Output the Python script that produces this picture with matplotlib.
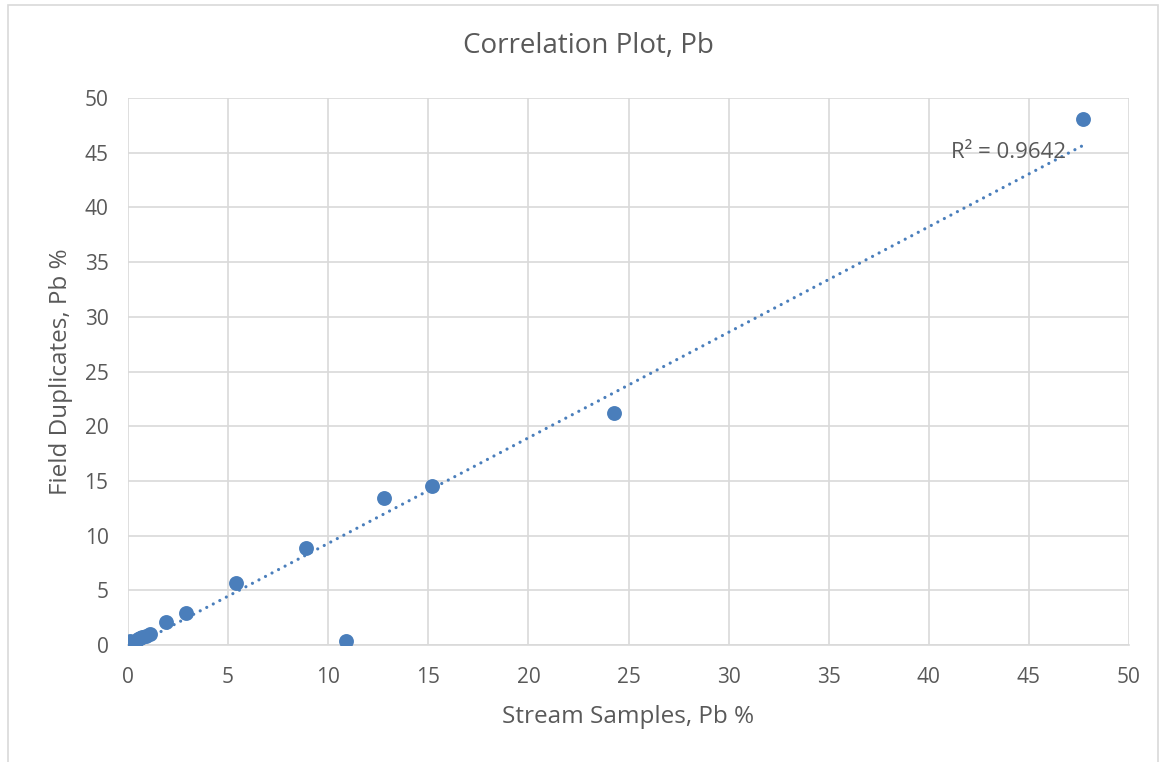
import numpy as np
import matplotlib
matplotlib.use("Agg")
import matplotlib.pyplot as plt
from matplotlib.patches import Rectangle

stream = [0.02, 0.05, 0.08, 0.1, 0.15, 0.2, 0.3, 0.4, 0.5, 0.6, 0.7, 0.9, 1.1,
          1.9, 2.9, 5.4, 8.9, 10.9, 12.8, 15.2, 24.3, 47.7]
dups = [0.02, 0.1, 0.2, 0.35, 0.05, 0.15, 0.3, 0.4, 0.55, 0.6, 0.7, 0.85, 1.0,
        2.1, 2.9, 5.7, 8.9, 0.4, 13.4, 14.5, 21.2, 48.1]
x_ticks = list(range(0, 55, 5))
y_ticks = list(range(0, 55, 5))
r2_label = "R² = 0.9642"

plt.rcParams['font.family'] = ['Open Sans', 'DejaVu Sans']
gray = '#595959'
blue = '#4a7ebb'

fig = plt.figure(figsize=(11.65, 7.62), dpi=100)
fig.patches.append(Rectangle((8/1165, -0.01), (1158-8)/1165, (762-5)/762 + 0.01,
                             transform=fig.transFigure, fill=False,
                             edgecolor='#d9d9d9', linewidth=1.2))
ax = fig.add_axes([128/1165, 1-645/762, (1129-128)/1165, (645-98)/762])

ax.set_xlim(0, 50)
ax.set_ylim(0, 50)
ax.set_xticks(x_ticks)
ax.set_yticks(y_ticks)
ax.grid(True, color='#d9d9d9', linewidth=1.2)
ax.set_axisbelow(True)
for s in ['top', 'right', 'left']:
    ax.spines[s].set_visible(False)
ax.spines['bottom'].set_color('#d9d9d9')
ax.spines['bottom'].set_linewidth(1.2)
ax.tick_params(length=0, labelsize=15, labelcolor=gray)
ax.tick_params(axis='x', pad=16)
ax.tick_params(axis='y', pad=14)

ax.scatter(stream, dups, s=115, color=blue, zorder=3, linewidths=0)

xs = np.array(stream)
ys = np.array(dups)
m, b = np.polyfit(xs, ys, 1)
xl = np.array([xs.min(), xs.max()])
ax.plot(xl, m*xl + b, linestyle=(0, (0.01, 2.3)), color=blue, linewidth=2.3,
        zorder=2, dash_capstyle='round')

ax.text(44.0, 45.0, r2_label, fontsize=16, color=gray, ha='center', va='center', zorder=4)

ax.set_xlabel("Stream Samples, Pb %", fontsize=17.5, color=gray, labelpad=12)
ax.set_ylabel("Field Duplicates, Pb %", fontsize=17.5, color=gray)
ax.yaxis.set_label_coords(-0.055, 0.5)
fig.text(588/1165, 1-46/762, "Correlation Plot, Pb", fontsize=20,
         color=gray, ha='center', va='center')

fig.savefig("out.png", dpi=100)
